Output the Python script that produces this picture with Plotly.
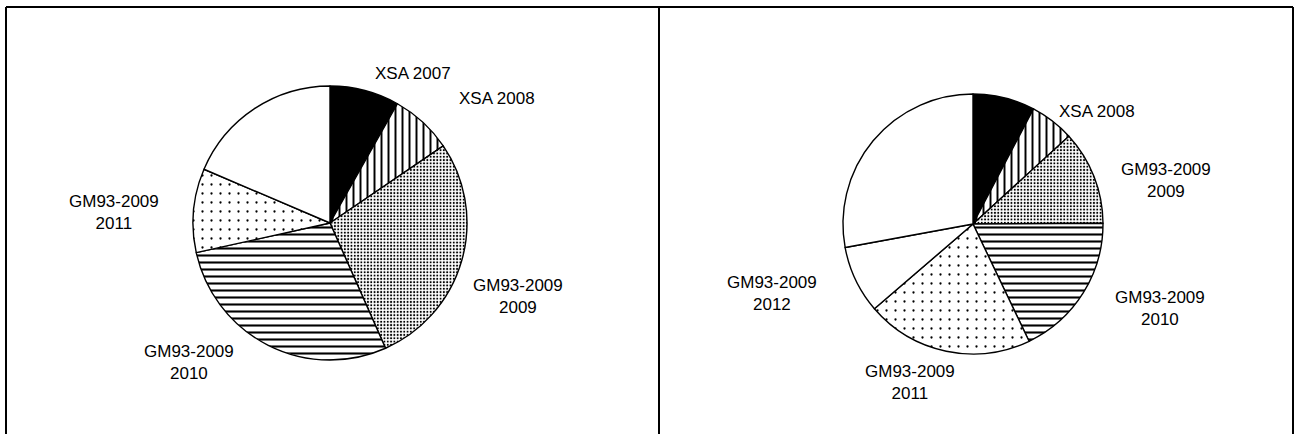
import plotly.graph_objects as go

# ---- data ----
left_labels = ["XSA 2007", "XSA 2008", "GM93-2009 2009", "GM93-2009 2010", "GM93-2009 2011", "Other"]
left_values = [8.2, 7.3, 27.9, 28.2, 9.9, 18.6]

right_labels = ["XSA 2007", "XSA 2008", "GM93-2009 2009", "GM93-2009 2010", "GM93-2009 2011", "GM93-2009 2012", "Other"]
right_values = [7.7, 5.5, 11.7, 18.0, 20.8, 8.4, 27.9]

left_annot_text = ["XSA 2007", "XSA 2008", "GM93-2009<br>2009", "GM93-2009<br>2010", "GM93-2009<br>2011"]
right_annot_text = ["XSA 2008", "GM93-2009<br>2009", "GM93-2009<br>2010", "GM93-2009<br>2011", "GM93-2009<br>2012"]

# ---- styles ----
W, H = 1297, 434

def style(n_extra_white):
    colors = ["black", "white", "white", "white", "white"] + ["white"] * n_extra_white
    shapes = ["", "|", ".", "-", "."] + [""] * n_extra_white
    sizes = [8, 7, 3.3, 7, 9] + [8] * n_extra_white
    sol = [0.2, 0.28, 0.3, 0.3, 0.05] + [0.2] * n_extra_white
    return colors, shapes, sizes, sol

def px_domain(cx, cy, r):
    return dict(x=[(cx - r) / W, (cx + r) / W], y=[1 - (cy + r) / H, 1 - (cy - r) / H])

fig = go.Figure()
for labels, values, n_extra, (cx, cy, r) in [
    (left_labels, left_values, 1, (330, 223, 137)),
    (right_labels, right_values, 2, (973, 224, 130)),
]:
    colors, shapes, sizes, sol = style(n_extra)
    fig.add_trace(go.Pie(
        labels=labels, values=values, sort=False, direction="clockwise", rotation=0,
        textinfo="none", hoverinfo="label+percent", showlegend=False,
        domain=px_domain(cx, cy, r),
        marker=dict(colors=colors, line=dict(color="black", width=1.4),
                    pattern=dict(shape=shapes, size=sizes, solidity=sol,
                                 fgcolor="black", bgcolor="white", fillmode="replace")),
    ))

# label positions (pixel centers)
left_pos = [(413, 73), (497, 98), (518, 296), (189, 362), (114, 212)]
right_pos = [(1097, 111), (1166, 180), (1160, 308), (910, 382), (772, 293)]

ann = []
for txt, (x, y) in list(zip(left_annot_text, left_pos)) + list(zip(right_annot_text, right_pos)):
    ann.append(dict(x=x / W, y=1 - y / H, xref="paper", yref="paper", text=txt,
                    showarrow=False, xanchor="center", yanchor="middle", align="center",
                    font=dict(family="Liberation Sans, Arial", size=17, color="black")))

line = dict(color="black", width=2)
shapes = [
    dict(type="line", xref="paper", yref="paper", x0=6 / W, x1=1293 / W, y0=1 - 7 / H, y1=1 - 7 / H, line=line),
    dict(type="line", xref="paper", yref="paper", x0=6 / W, x1=6 / W, y0=1 - 7 / H, y1=0, line=line),
    dict(type="line", xref="paper", yref="paper", x0=659 / W, x1=659 / W, y0=1 - 7 / H, y1=0, line=line),
    dict(type="line", xref="paper", yref="paper", x0=1293 / W, x1=1293 / W, y0=1 - 7 / H, y1=0, line=line),
]

fig.update_layout(width=W, height=H, margin=dict(l=0, r=0, t=0, b=0),
                  paper_bgcolor="white", plot_bgcolor="white",
                  annotations=ann, shapes=shapes)
fig.write_html("out.html", config={"displayModeBar": False},
               post_script="document.body.style.margin='0';document.body.style.overflow='hidden';")
